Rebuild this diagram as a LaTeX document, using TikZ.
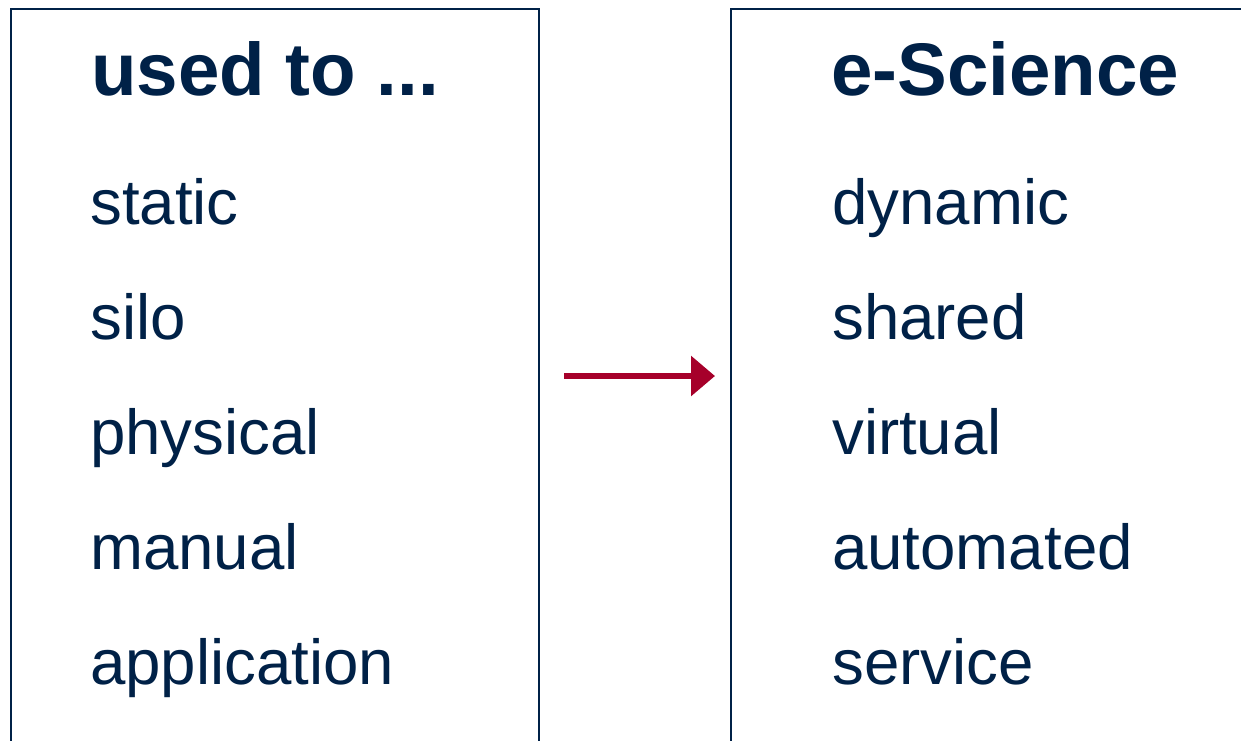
\documentclass[tikz,border=0pt]{standalone}
\usepackage{fontspec}
\setmainfont{Liberation Sans}
\usepackage{xcolor}
\usepackage{tikz}
\usetikzlibrary{arrows.meta}
\definecolor{navy}{HTML}{002147}
\definecolor{crimson}{HTML}{A6002A}
\def\headfont{\fontsize{74.5}{74.5}\selectfont\bfseries}
\def\itemfont{\fontsize{63.6}{63.6}\selectfont}

\begin{document}
\begin{tikzpicture}[x=1pt,y=-1pt]
    \tikzstyle{frame}=[draw=navy,line width=2.8pt]
    \tikzstyle{head}=[anchor=base west,inner sep=0pt,text=navy,font=\headfont]
    \tikzstyle{word}=[anchor=base west,inner sep=0pt,text=navy,font=\itemfont]
    \useasboundingbox (0,0) rectangle (1241,740);
    \draw[frame] (11,745) -- (11,9) -- (539,9) -- (539,745);
    \draw[frame] (731,745) -- (731,9) -- (1246,9);
    \node[head] (before) at (91,95) {used to ...};
    \node[word] (static) at (90,224) {static};
    \node[word] (silo) at (90,339) {silo};
    \node[word] (physical) at (90,454) {physical};
    \node[word] (manual) at (90,569) {manual};
    \node[word] (application) at (90,684) {application};
    \node[head] (after) at (831,95) {e-Science};
    \node[word] (dynamic) at (832,224) {dynamic};
    \node[word] (shared) at (832,339) {shared};
    \node[word] (virtual) at (832,454) {virtual};
    \node[word] (automated) at (832,569) {automated};
    \node[word] (service) at (832,684) {service};
    \coordinate (from) at (564,376);
    \coordinate (to) at (715,376);
    \draw[crimson,line width=6pt,-{Triangle[length=24pt,width=39pt]}] (from) -- (to);
\end{tikzpicture}
\end{document}
